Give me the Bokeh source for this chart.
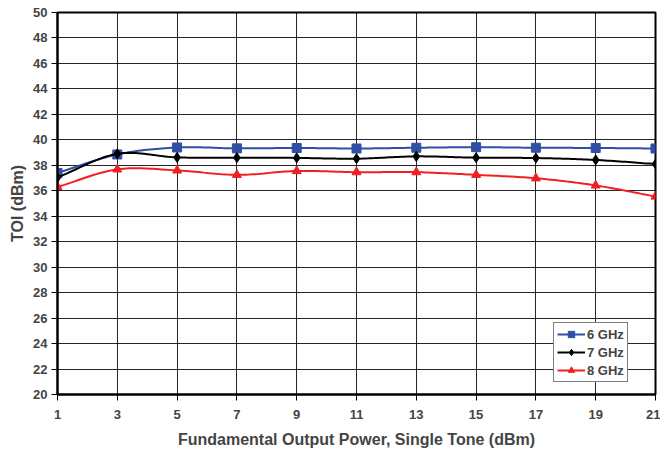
from bokeh.plotting import figure
from bokeh.models import Legend, LegendItem, FixedTicker, Range1d
from bokeh.embed import file_html
from bokeh.resources import INLINE
import numpy as np

# Fundamental output power (dBm)
power = [1, 3, 5, 7, 9, 11, 13, 15, 17, 19, 21]

# Third-order intercept (dBm) at each frequency
toi_6ghz = [37.4, 38.85, 39.4, 39.33, 39.36, 39.32, 39.38, 39.42, 39.38, 39.36, 39.32]
toi_7ghz = [37.05, 38.9, 38.62, 38.6, 38.58, 38.52, 38.7, 38.6, 38.57, 38.42, 38.1]
toi_8ghz = [36.3, 37.68, 37.6, 37.25, 37.55, 37.46, 37.46, 37.25, 36.98, 36.42, 35.55]

y_ticks = list(range(20, 51, 2))
x_ticks = power

FONT = "Liberation Sans"


def smooth(xs, ys, n=20):
    """Catmull-Rom curve through the given points (smoothed line path)."""
    xs = np.asarray(xs, float)
    ys = np.asarray(ys, float)
    px = np.concatenate([[2 * xs[0] - xs[1]], xs, [2 * xs[-1] - xs[-2]]])
    py = np.concatenate([[2 * ys[0] - ys[1]], ys, [2 * ys[-1] - ys[-2]]])
    ox, oy = [], []
    for i in range(1, len(px) - 2):
        t = np.linspace(0, 1, n, endpoint=False)
        for p, out in ((px, ox), (py, oy)):
            p0, p1, p2, p3 = p[i - 1], p[i], p[i + 1], p[i + 2]
            out.extend(0.5 * ((2 * p1) + (-p0 + p2) * t
                              + (2 * p0 - 5 * p1 + 4 * p2 - p3) * t ** 2
                              + (-p0 + 3 * p1 - 3 * p2 + p3) * t ** 3))
    ox.append(xs[-1])
    oy.append(ys[-1])
    return ox, oy


p = figure(width=660, height=451, output_backend="svg", toolbar_location=None,
           x_range=Range1d(1, 21), y_range=Range1d(20, 50),
           min_border_left=57, min_border_right=5, min_border_top=12,
           min_border_bottom=57)

p.outline_line_color = "black"
p.outline_line_width = 2

for ax in (p.xaxis[0], p.yaxis[0]):
    ax.axis_line_color = "black"
    ax.axis_line_width = 2
    ax.major_tick_line_color = "black"
    ax.major_tick_in = 0
    ax.major_tick_out = 6
    ax.minor_tick_line_color = None
    ax.major_label_text_font = FONT
    ax.major_label_text_font_style = "bold"
    ax.major_label_text_font_size = "13px"
    ax.axis_label_text_font = FONT
    ax.axis_label_text_font_style = "bold"
    ax.axis_label_text_font_size = "16px"

p.xaxis.ticker = FixedTicker(ticks=x_ticks)
p.yaxis.ticker = FixedTicker(ticks=y_ticks)
p.xaxis.axis_label = "Fundamental Output Power, Single Tone (dBm)"
p.yaxis.axis_label = "TOI (dBm)"
p.xaxis.major_label_standoff = 9
p.yaxis.major_label_standoff = 4
p.xaxis.axis_label_standoff = 9
p.yaxis.axis_label_standoff = 4

p.xgrid.ticker = FixedTicker(ticks=x_ticks)
p.ygrid.ticker = FixedTicker(ticks=y_ticks)
for g in (p.xgrid[0], p.ygrid[0]):
    g.grid_line_color = "black"
    g.grid_line_width = 1
    g.grid_line_alpha = 0.85

series = [
    ("6 GHz", toi_6ghz, "#2F4FA5", "square", 9),
    ("7 GHz", toi_7ghz, "black", "diamond", 10),
    ("8 GHz", toi_8ghz, "#F02020", "triangle", 9),
]

items = []
for label, vals, color, marker, size in series:
    sx, sy = smooth(power, vals)
    ln = p.line(sx, sy, line_color=color, line_width=2)
    mk = p.scatter(power, vals, marker=marker, size=size,
                   fill_color=color, line_color=color)
    items.append(LegendItem(label=label, renderers=[ln, mk]))

legend = Legend(items=items, location=(496, 12))
legend.border_line_color = "black"
legend.border_line_width = 1
legend.background_fill_color = "white"
legend.background_fill_alpha = 1
legend.label_text_font = FONT
legend.label_text_font_style = "bold"
legend.label_text_font_size = "13px"
legend.glyph_width = 28
legend.glyph_height = 16
legend.label_standoff = 2
legend.label_height = 16
legend.padding = 3
legend.spacing = 2
legend.margin = 0
p.add_layout(legend)

open("out.html", "w").write(file_html(p, INLINE))
